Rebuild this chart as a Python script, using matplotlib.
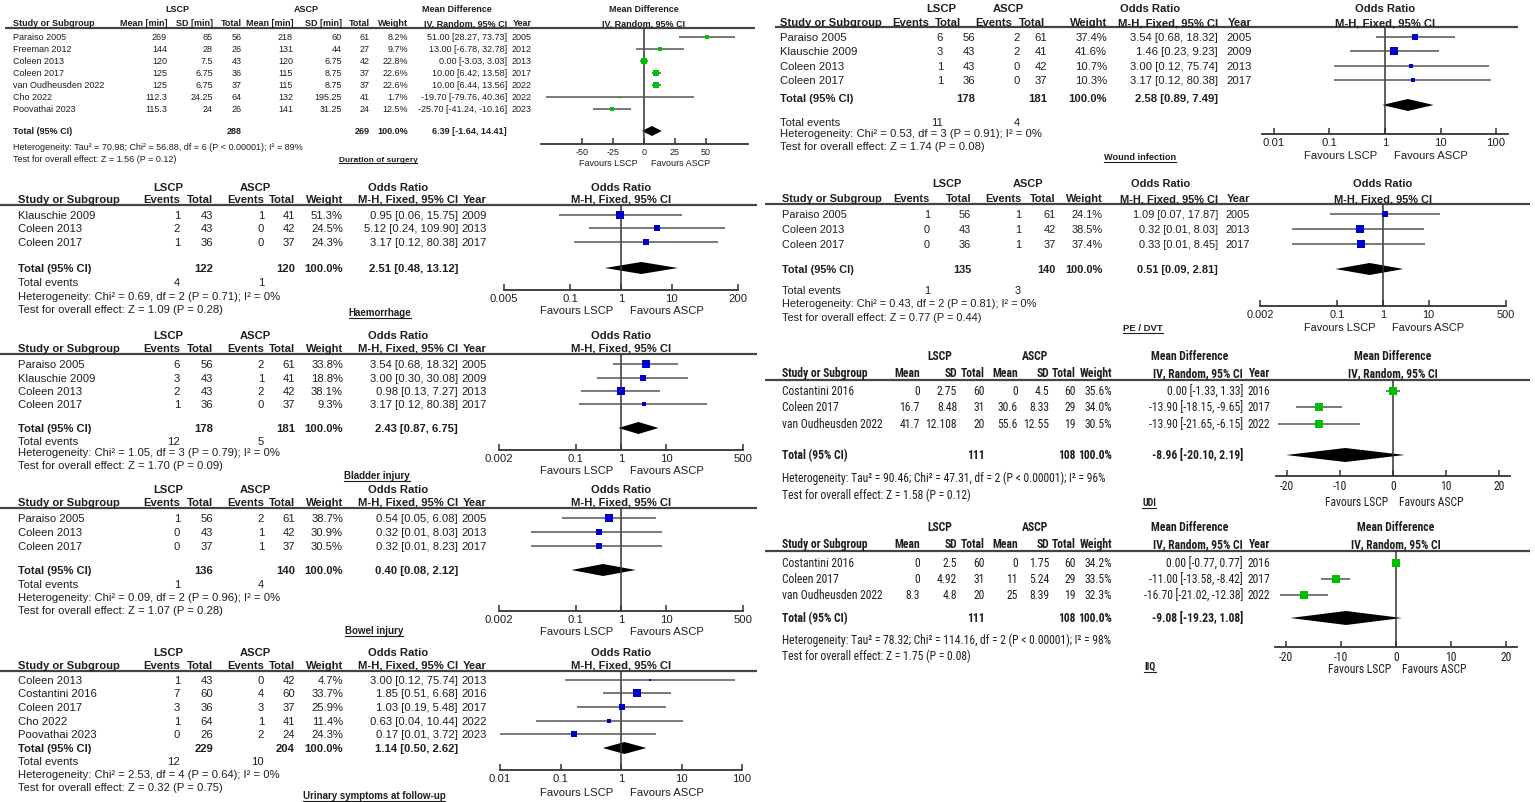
import os
import numpy as np
import matplotlib
matplotlib.use("Agg")
import matplotlib.pyplot as plt
from matplotlib import font_manager
from matplotlib.font_manager import FontProperties
from matplotlib.patches import Polygon

W, H = 1535, 803

# ---------------- data ----------------
# Duration of surgery (mean difference, minutes)
DUR_STUDY = ["Paraiso 2005", "Freeman 2012", "Coleen 2013", "Coleen 2017",
             "van Oudheusden 2022", "Cho 2022", "Poovathai 2023"]
DUR_YEAR = [2005, 2012, 2013, 2017, 2022, 2022, 2023]
DUR_MEAN_L = [269, 144, 120, 125, 125, 112.3, 115.3]
DUR_SD_L = [65, 28, 7.5, 6.75, 6.75, 24.25, 24]
DUR_N_L = [56, 26, 43, 36, 37, 64, 26]
DUR_MEAN_A = [218, 131, 120, 115, 115, 132, 141]
DUR_SD_A = [60, 44, 6.75, 8.75, 8.75, 195.25, 31.25]
DUR_N_A = [61, 27, 42, 37, 37, 41, 24]
DUR_WEIGHT = [8.2, 9.7, 22.8, 22.6, 22.6, 1.7, 12.5]
DUR_MD = [51.00, 13.00, 0.00, 10.00, 10.00, -19.70, -25.70]
DUR_LO = [28.27, -6.78, -3.03, 6.42, 6.44, -79.76, -41.24]
DUR_HI = [73.73, 32.78, 3.03, 13.58, 13.56, 40.36, -10.16]
DUR_POOLED = [6.39, -1.64, 14.41]
DUR_HET = "Heterogeneity: Tau² = 70.98; Chi² = 56.88, df = 6 (P < 0.00001); I² = 89%"
DUR_TEST = "Test for overall effect: Z = 1.56 (P = 0.12)"

# Haemorrhage
HAEM_STUDY = ["Klauschie 2009", "Coleen 2013", "Coleen 2017"]
HAEM_YEAR = [2009, 2013, 2017]
HAEM_EV_L = [1, 2, 1]
HAEM_N_L = [43, 43, 36]
HAEM_EV_A = [1, 0, 0]
HAEM_N_A = [41, 42, 37]
HAEM_WEIGHT = [51.3, 24.5, 24.3]
HAEM_OR = [0.95, 5.12, 3.17]
HAEM_LO = [0.06, 0.24, 0.12]
HAEM_HI = [15.75, 109.90, 80.38]
HAEM_POOLED = [2.51, 0.48, 13.12]
HAEM_HET = "Heterogeneity: Chi² = 0.69, df = 2 (P = 0.71); I² = 0%"
HAEM_TEST = "Test for overall effect: Z = 1.09 (P = 0.28)"

# Bladder injury
BLAD_STUDY = ["Paraiso 2005", "Klauschie 2009", "Coleen 2013", "Coleen 2017"]
BLAD_YEAR = [2005, 2009, 2013, 2017]
BLAD_EV_L = [6, 3, 2, 1]
BLAD_N_L = [56, 43, 43, 36]
BLAD_EV_A = [2, 1, 2, 0]
BLAD_N_A = [61, 41, 42, 37]
BLAD_WEIGHT = [33.8, 18.8, 38.1, 9.3]
BLAD_OR = [3.54, 3.00, 0.98, 3.17]
BLAD_LO = [0.68, 0.30, 0.13, 0.12]
BLAD_HI = [18.32, 30.08, 7.27, 80.38]
BLAD_POOLED = [2.43, 0.87, 6.75]
BLAD_HET = "Heterogeneity: Chi² = 1.05, df = 3 (P = 0.79); I² = 0%"
BLAD_TEST = "Test for overall effect: Z = 1.70 (P = 0.09)"

# Bowel injury
BOW_STUDY = ["Paraiso 2005", "Coleen 2013", "Coleen 2017"]
BOW_YEAR = [2005, 2013, 2017]
BOW_EV_L = [1, 0, 0]
BOW_N_L = [56, 43, 37]
BOW_EV_A = [2, 1, 1]
BOW_N_A = [61, 42, 37]
BOW_WEIGHT = [38.7, 30.9, 30.5]
BOW_OR = [0.54, 0.32, 0.32]
BOW_LO = [0.05, 0.01, 0.01]
BOW_HI = [6.08, 8.03, 8.23]
BOW_POOLED = [0.40, 0.08, 2.12]
BOW_HET = "Heterogeneity: Chi² = 0.09, df = 2 (P = 0.96); I² = 0%"
BOW_TEST = "Test for overall effect: Z = 1.07 (P = 0.28)"

# Urinary symptoms at follow-up
URI_STUDY = ["Coleen 2013", "Costantini 2016", "Coleen 2017", "Cho 2022", "Poovathai 2023"]
URI_YEAR = [2013, 2016, 2017, 2022, 2023]
URI_EV_L = [1, 7, 3, 1, 0]
URI_N_L = [43, 60, 36, 64, 26]
URI_EV_A = [0, 4, 3, 1, 2]
URI_N_A = [42, 60, 37, 41, 24]
URI_WEIGHT = [4.7, 33.7, 25.9, 11.4, 24.3]
URI_OR = [3.00, 1.85, 1.03, 0.63, 0.17]
URI_LO = [0.12, 0.51, 0.19, 0.04, 0.01]
URI_HI = [75.74, 6.68, 5.48, 10.44, 3.72]
URI_POOLED = [1.14, 0.50, 2.62]
URI_HET = "Heterogeneity: Chi² = 2.53, df = 4 (P = 0.64); I² = 0%"
URI_TEST = "Test for overall effect: Z = 0.32 (P = 0.75)"

# Wound infection
WOUND_STUDY = ["Paraiso 2005", "Klauschie 2009", "Coleen 2013", "Coleen 2017"]
WOUND_YEAR = [2005, 2009, 2013, 2017]
WOUND_EV_L = [6, 3, 1, 1]
WOUND_N_L = [56, 43, 43, 36]
WOUND_EV_A = [2, 2, 0, 0]
WOUND_N_A = [61, 41, 42, 37]
WOUND_WEIGHT = [37.4, 41.6, 10.7, 10.3]
WOUND_OR = [3.54, 1.46, 3.00, 3.17]
WOUND_LO = [0.68, 0.23, 0.12, 0.12]
WOUND_HI = [18.32, 9.23, 75.74, 80.38]
WOUND_POOLED = [2.58, 0.89, 7.49]
WOUND_HET = "Heterogeneity: Chi² = 0.53, df = 3 (P = 0.91); I² = 0%"
WOUND_TEST = "Test for overall effect: Z = 1.74 (P = 0.08)"

# PE / DVT
PE_STUDY = ["Paraiso 2005", "Coleen 2013", "Coleen 2017"]
PE_YEAR = [2005, 2013, 2017]
PE_EV_L = [1, 0, 0]
PE_N_L = [56, 43, 36]
PE_EV_A = [1, 1, 1]
PE_N_A = [61, 42, 37]
PE_WEIGHT = [24.1, 38.5, 37.4]
PE_OR = [1.09, 0.32, 0.33]
PE_LO = [0.07, 0.01, 0.01]
PE_HI = [17.87, 8.03, 8.45]
PE_POOLED = [0.51, 0.09, 2.81]
PE_HET = "Heterogeneity: Chi² = 0.43, df = 2 (P = 0.81); I² = 0%"
PE_TEST = "Test for overall effect: Z = 0.77 (P = 0.44)"

# UDI
UDI_STUDY = ["Costantini 2016", "Coleen 2017", "van Oudheusden 2022"]
UDI_YEAR = [2016, 2017, 2022]
UDI_MEAN_L = [0, 16.7, 41.7]
UDI_SD_L = [2.75, 8.48, 12.108]
UDI_N_L = [60, 31, 20]
UDI_MEAN_A = [0, 30.6, 55.6]
UDI_SD_A = [4.5, 8.33, 12.55]
UDI_N_A = [60, 29, 19]
UDI_WEIGHT = [35.6, 34.0, 30.5]
UDI_MD = [0.00, -13.90, -13.90]
UDI_LO = [-1.33, -18.15, -21.65]
UDI_HI = [1.33, -9.65, -6.15]
UDI_POOLED = [-8.96, -20.10, 2.19]
UDI_HET = "Heterogeneity: Tau² = 90.46; Chi² = 47.31, df = 2 (P < 0.00001); I² = 96%"
UDI_TEST = "Test for overall effect: Z = 1.58 (P = 0.12)"

# IIQ
IIQ_STUDY = ["Costantini 2016", "Coleen 2017", "van Oudheusden 2022"]
IIQ_YEAR = [2016, 2017, 2022]
IIQ_MEAN_L = [0, 0, 8.3]
IIQ_SD_L = [2.5, 4.92, 4.8]
IIQ_N_L = [60, 31, 20]
IIQ_MEAN_A = [0, 11, 25]
IIQ_SD_A = [1.75, 5.24, 8.39]
IIQ_N_A = [60, 29, 19]
IIQ_WEIGHT = [34.2, 33.5, 32.3]
IIQ_MD = [0.00, -11.00, -16.70]
IIQ_LO = [-0.77, -13.58, -21.02]
IIQ_HI = [0.77, -8.42, -12.38]
IIQ_POOLED = [-9.08, -19.23, 1.08]
IIQ_HET = "Heterogeneity: Tau² = 78.32; Chi² = 114.16, df = 2 (P < 0.00001); I² = 98%"
IIQ_TEST = "Test for overall effect: Z = 1.75 (P = 0.08)"

INK = "#1e1e1e"
BLUE = "#0000c8"
GREEN = "#00c000"
REG = ["Liberation Sans", "DejaVu Sans"]
OR_HEADS = ["Events", "Total", "Events", "Total"]
MD_HEADS = ["Mean", "SD", "Total", "Mean", "SD", "Total"]

fig = plt.figure(figsize=(W / 100, H / 100), dpi=100)
bg = fig.add_axes([0, 0, 1, 1])
bg.set_xlim(0, W)
bg.set_ylim(H, 0)
bg.axis("off")
renderer = fig.canvas.get_renderer()


def text_width(s, fp):
    t = fig.text(0, 0, s, fontproperties=fp)
    w = t.get_window_extent(renderer).width
    t.remove()
    return w


def find_narrow():
    # look for a condensed sans face (regular + bold) among installed fonts
    found = {}
    for f in font_manager.fontManager.ttflist:
        stem, ext = os.path.splitext(os.path.basename(f.fname))
        low = stem.lower()
        if ext.lower() not in (".ttf", ".otf") or "[" in stem:
            continue
        if "narrow" not in low and "condensed" not in low:
            continue
        if any(k in low for k in ("italic", "oblique", "serif", "mono", "semicondensed")):
            continue
        rest = low
        for k in ("extracondensed", "ultracondensed", "condensed", "narrow"):
            rest = rest.replace(k, "")
        if any(k in rest for k in ("semibold", "extrabold", "light", "thin", "medium",
                                   "black", "demi")):
            continue
        kind = "bold" if "bold" in rest else "reg"
        key = stem.replace("Regular", "").replace("Bold", "").replace("-", "").replace("_", "").lower()
        found.setdefault(key, {})[kind] = f.fname
    prefs = ["liberationsansnarrow", "arialnarrow", "robotocondensed",
             "notosansextracondensed", "notosanscondensed", "opensanscondensed",
             "dejavusanscondensed"]
    for p in prefs:
        if p in found and len(found[p]) == 2:
            return found[p]["reg"], found[p]["bold"]
    return None


nar = find_narrow()
if nar:
    base_reg = FontProperties(fname=nar[0], size=10)
    base_bold = FontProperties(fname=nar[1], size=10)
else:
    base_reg = FontProperties(family=REG, size=10)
    base_bold = FontProperties(family=REG, size=10, weight="bold")
NAR_FS = min(9.3, 10 * 101 / text_width("van Oudheusden 2022", base_reg))
NAR_REG = base_reg.copy()
NAR_REG.set_size(NAR_FS)
NAR_BOLD = base_bold.copy()
NAR_BOLD.set_size(NAR_FS)


def reg_fonts(fs):
    return (FontProperties(family=REG, size=fs),
            FontProperties(family=REG, size=fs, weight="bold"))


def ci_text(e, l, h):
    return f"{e:.2f} [{l:.2f}, {h:.2f}]"


def panel(lay, study, year, cols, weight, est, lo, hi, pooled, het, test):
    fp, fpb = lay["fonts"]
    kw = dict(fontproperties=fp, color=INK, va="center")
    bkw = dict(fontproperties=fpb, color=INK, va="center")
    x0 = lay["x0"]

    # header block
    yg, yh = lay["y_grp"], lay["y_hdr"]
    for txt, cx in zip(lay["groups"], lay["group_x"]):
        bg.text(cx, yg, txt, ha="center", **bkw)
    bg.text(x0, yh, "Study or Subgroup", ha="left", **bkw)
    for txt, rx in zip(lay["heads"], lay.get("head_x", lay["cols"])):
        bg.text(rx, yh, txt, ha="right", **bkw)
    bg.text(lay["x_w"], yh, "Weight", ha="right", **bkw)
    bg.text(lay["x_ci"], yh, lay["ci_head"][1], ha="right", **bkw)
    bg.text(lay["x_yr"], yh, "Year", ha="right", **bkw)
    xc = lay["xc"]
    bg.text(xc, yg, lay["ci_head"][0], ha="center", **bkw)
    bg.text(xc, yh, lay["ci_head"][1], ha="center", **bkw)
    yl = lay["y_line"]
    bg.plot(lay["line_x"], [yl, yl], color="#444444", lw=1.6, solid_capstyle="butt")

    # study rows
    for i, y in enumerate(lay["rows"]):
        bg.text(x0, y, study[i], ha="left", **kw)
        for vals, rx in zip(cols, lay["cols"]):
            bg.text(rx, y, f"{vals[i]:g}", ha="right", **kw)
        bg.text(lay["x_w"], y, f"{weight[i]:.1f}%", ha="right", **kw)
        bg.text(lay["x_ci"], y, ci_text(est[i], lo[i], hi[i]), ha="right", **kw)
        bg.text(lay["x_yr"], y, str(year[i]), ha="right", **kw)

    # total rows
    yt = lay["y_tot"]
    bg.text(x0, yt, "Total (95% CI)", ha="left", **bkw)
    for j in lay["tot_cols"]:
        bg.text(lay["cols"][j], yt, str(sum(cols[j])), ha="right", **bkw)
    bg.text(lay["x_w"], yt, "100.0%", ha="right", **bkw)
    bg.text(lay["x_ci"], yt, ci_text(*pooled), ha="right", **bkw)
    if lay.get("y_ev"):
        bg.text(x0, lay["y_ev"], "Total events", ha="left", **kw)
        for j in (0, 2):
            bg.text(lay["cols"][j], lay["y_ev"], str(sum(cols[j])), ha="right", **kw)
    bg.text(x0, lay["y_het"], het, ha="left", **kw)
    bg.text(x0, lay["y_test"], test, ha="left", **kw)

    # underlined outcome title
    tfp = fpb.copy()
    tfp.set_size(lay["tfs"])
    t = bg.text(lay["title"][1], lay["title"][2], lay["title"][0], ha="center",
                fontproperties=tfp, color=INK, va="center")
    bb = t.get_window_extent(renderer)
    uy = H - bb.y0 + 0.5
    bg.plot([bb.x0, bb.x1], [uy, uy], color=INK, lw=0.8)

    # forest plot
    ya, hw = lay["y_axis"], lay["hw"]
    ax = fig.add_axes([(xc - hw) / W, 1 - ya / H, 2 * hw / W, (ya - yl) / H])
    ax.patch.set_alpha(0)
    ax.set_ylim(ya, yl)
    L = lay["lim"]
    if lay["log"]:
        ax.set_xscale("log")
        ax.set_xlim(10 ** -L, 10 ** L)
        ref, colour = 1, BLUE
    else:
        ax.set_xlim(-L, L)
        ref, colour = 0, GREEN
    ax.minorticks_off()
    for s in ("top", "left", "right"):
        ax.spines[s].set_visible(False)
    ax.spines["bottom"].set_linewidth(1.3)
    ax.spines["bottom"].set_color("#333333")
    ax.set_yticks([])
    ticks = lay["ticks"]
    ax.set_xticks(ticks)
    ax.set_xticklabels([f"{v:g}" for v in ticks])
    ax.tick_params(axis="x", direction="in", length=4, width=1.1, pad=2,
                   colors="#333333", labelcolor=INK)
    for lbl in ax.get_xticklabels():
        lbl.set_fontproperties(fp)
    ax.axvline(ref, color="#333333", lw=1.1)
    rows = lay["rows"]
    ax.hlines(rows, lo, hi, color="#555555", lw=1.1)
    for y, e, w in zip(rows, est, weight):
        side = lay["sq"] * np.sqrt(w) * 0.72
        ax.plot(e, y, "s", ms=side, color=colour, mec=colour, mew=0)
    e, l, h = pooled
    yd, dh = lay.get("y_dia", yt), lay["dh"]
    ax.add_patch(Polygon([(l, yd), (e, yd - dh), (h, yd), (e, yd + dh)],
                         closed=True, color="black", lw=0))

    yf, gap = lay["y_fav"], lay.get("fav_gap", 8)
    bg.text(xc - gap, yf, "Favours LSCP", ha="right", **kw)
    bg.text(xc + gap + 1, yf, "Favours ASCP", ha="left", **kw)


# ---------------- layouts ----------------
left_or = dict(fonts=reg_fonts(8.1), x0=18, heads=OR_HEADS, cols=[180, 213, 264, 295],
               x_w=343, x_ci=458, x_yr=487, group_x=[168, 255, 398],
               groups=["LSCP", "ASCP", "Odds Ratio"],
               ci_head=("Odds Ratio", "M-H, Fixed, 95% CI"), line_x=[0, 757],
               tot_cols=[1, 3], tfs=7, xc=621, hw=121, log=True, sq=1.25, dh=6)

panel(dict(fonts=reg_fonts(6.5), x0=13, heads=["Mean [min]", "SD [min]", "Total",
                                                  "Mean [min]", "SD [min]", "Total"],
           cols=[167, 213, 242, 293, 342, 370], x_w=408, x_ci=507, x_yr=532,
           groups=["LSCP", "ASCP", "Mean Difference"], group_x=[177, 306, 457],
           ci_head=("Mean Difference", "IV, Random, 95% CI"), line_x=[5, 755],
           y_grp=10, y_hdr=24, y_line=29, rows=[38, 50, 62, 74, 86, 98, 110],
           y_tot=132, y_het=147, y_test=159, tot_cols=[2, 5],
           title=("Duration of surgery", 378, 160), tfs=6,
           xc=644, hw=103.5, lim=84, log=False, ticks=[-50, -25, 0, 25, 50],
           y_axis=145, y_fav=164, sq=1.25, dh=5, fav_gap=6),
      DUR_STUDY, DUR_YEAR, [DUR_MEAN_L, DUR_SD_L, DUR_N_L, DUR_MEAN_A, DUR_SD_A, DUR_N_A],
      DUR_WEIGHT, DUR_MD, DUR_LO, DUR_HI, DUR_POOLED, DUR_HET, DUR_TEST)

panel(dict(left_or, y_grp=188, y_hdr=200, y_line=206, rows=[216, 229, 243], y_tot=269,
           y_ev=283, y_het=297, y_test=310, title=("Haemorrhage", 380, 313),
           hw=117, lim=2.301, ticks=[0.005, 0.1, 1, 10, 200], y_axis=291, y_fav=311),
      HAEM_STUDY, HAEM_YEAR, [HAEM_EV_L, HAEM_N_L, HAEM_EV_A, HAEM_N_A],
      HAEM_WEIGHT, HAEM_OR, HAEM_LO, HAEM_HI, HAEM_POOLED, HAEM_HET, HAEM_TEST)

panel(dict(left_or, y_grp=336, y_hdr=349, y_line=355, rows=[365, 379, 392, 405],
           y_tot=429, y_ev=442, y_het=453, y_test=466, title=("Bladder injury", 377, 476),
           hw=122, lim=2.699, ticks=[0.002, 0.1, 1, 10, 500], y_axis=451, y_fav=471),
      BLAD_STUDY, BLAD_YEAR, [BLAD_EV_L, BLAD_N_L, BLAD_EV_A, BLAD_N_A],
      BLAD_WEIGHT, BLAD_OR, BLAD_LO, BLAD_HI, BLAD_POOLED, BLAD_HET, BLAD_TEST)

panel(dict(left_or, y_grp=490, y_hdr=503, y_line=509, rows=[519, 533, 547],
           y_tot=571, y_ev=585, y_het=598, y_test=611, title=("Bowel injury", 374, 631),
           hw=122, lim=2.699, ticks=[0.002, 0.1, 1, 10, 500], y_axis=612, y_fav=632),
      BOW_STUDY, BOW_YEAR, [BOW_EV_L, BOW_N_L, BOW_EV_A, BOW_N_A],
      BOW_WEIGHT, BOW_OR, BOW_LO, BOW_HI, BOW_POOLED, BOW_HET, BOW_TEST)

panel(dict(left_or, y_grp=653, y_hdr=666, y_line=672, rows=[681, 694, 708, 722, 735],
           y_tot=749, y_ev=762, y_het=775, y_test=788,
           title=("Urinary symptoms at follow-up", 374, 796),
           hw=121, lim=2, ticks=[0.01, 0.1, 1, 10, 100], y_axis=771, y_fav=793),
      URI_STUDY, URI_YEAR, [URI_EV_L, URI_N_L, URI_EV_A, URI_N_A],
      URI_WEIGHT, URI_OR, URI_LO, URI_HI, URI_POOLED, URI_HET, URI_TEST)

panel(dict(left_or, x0=780, cols=[943, 975, 1020, 1047], head_x=[929, 961, 1012, 1045],
           x_w=1107, x_ci=1218, x_yr=1252, group_x=[941, 1008, 1150], line_x=[775, 1518],
           y_grp=9, y_hdr=23, y_line=28, rows=[38, 52, 67, 81], y_tot=99, y_dia=106,
           y_ev=123, y_het=134, y_test=147, title=("Wound infection", 1140, 158), tfs=6.6,
           xc=1385, hw=123, lim=2.216, ticks=[0.01, 0.1, 1, 10, 100], y_axis=135,
           y_fav=156, sq=1.1),
      WOUND_STUDY, WOUND_YEAR, [WOUND_EV_L, WOUND_N_L, WOUND_EV_A, WOUND_N_A],
      WOUND_WEIGHT, WOUND_OR, WOUND_LO, WOUND_HI, WOUND_POOLED, WOUND_HET, WOUND_TEST)

panel(dict(left_or, fonts=reg_fonts(7.9), x0=782, cols=[930, 971, 1021, 1056], x_w=1103,
           x_ci=1218, x_yr=1250, group_x=[947, 1028, 1161], line_x=[765, 1530],
           y_grp=184, y_hdr=199, y_line=205, rows=[215, 230, 245], y_tot=270,
           y_ev=291, y_het=304, y_test=318, title=("PE / DVT", 1143, 329), tfs=6.8,
           xc=1383, hw=123, lim=2.699, ticks=[0.002, 0.1, 1, 10, 500], y_axis=307,
           y_fav=328),
      PE_STUDY, PE_YEAR, [PE_EV_L, PE_N_L, PE_EV_A, PE_N_A],
      PE_WEIGHT, PE_OR, PE_LO, PE_HI, PE_POOLED, PE_HET, PE_TEST)

right_md = dict(fonts=(NAR_REG, NAR_BOLD), x0=782, heads=MD_HEADS,
                cols=[920, 957, 985, 1018, 1049, 1076], x_w=1112, x_ci=1243, x_yr=1270,
                groups=["LSCP", "ASCP", "Mean Difference"], group_x=[940, 1035, 1190],
                ci_head=("Mean Difference", "IV, Random, 95% CI"), line_x=[765, 1530],
                tot_cols=[2, 5], tfs=NAR_FS * 0.85, log=False, lim=22,
                ticks=[-20, -10, 0, 10, 20], sq=1.45, dh=7, fav_gap=5)

panel(dict(right_md, y_grp=357, y_hdr=374, y_line=381, rows=[392, 408, 425], y_tot=456,
           y_het=478, y_test=495, title=("UDI", 1149, 503), xc=1393, hw=117,
           y_axis=477, y_fav=503),
      UDI_STUDY, UDI_YEAR, [UDI_MEAN_L, UDI_SD_L, UDI_N_L, UDI_MEAN_A, UDI_SD_A, UDI_N_A],
      UDI_WEIGHT, UDI_MD, UDI_LO, UDI_HI, UDI_POOLED, UDI_HET, UDI_TEST)

panel(dict(right_md, y_grp=528, y_hdr=545, y_line=552, rows=[564, 580, 596], y_tot=619,
           y_het=640, y_test=656, title=("IIQ", 1150, 667), xc=1396, hw=121,
           y_axis=648, y_fav=670),
      IIQ_STUDY, IIQ_YEAR, [IIQ_MEAN_L, IIQ_SD_L, IIQ_N_L, IIQ_MEAN_A, IIQ_SD_A, IIQ_N_A],
      IIQ_WEIGHT, IIQ_MD, IIQ_LO, IIQ_HI, IIQ_POOLED, IIQ_HET, IIQ_TEST)

fig.savefig("out.png", dpi=100)
